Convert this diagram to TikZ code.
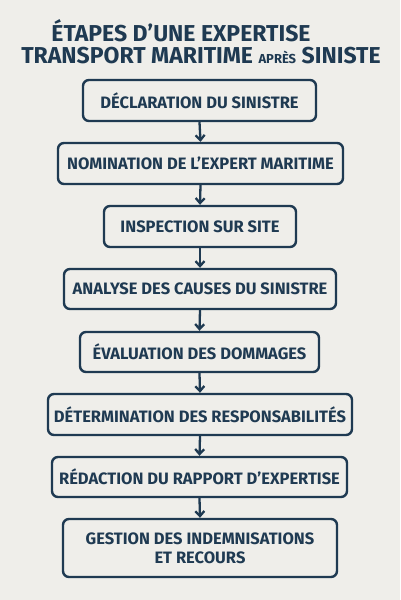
\documentclass[tikz,border=0pt]{standalone}
\usepackage{fontspec}
\setmainfont{Fira Sans}
\usetikzlibrary{arrows.meta}
\definecolor{bg}{HTML}{EFEEEA}
\definecolor{navy}{HTML}{1F3A52}
\begin{document}
\begin{tikzpicture}[x=1pt,y=-1pt,
  stepbox/.style={draw=navy,line width=2.4pt,rounded corners=6pt,inner sep=0pt,
    font=\fontsize{16.5}{19}\selectfont\bfseries,text=navy,align=center},
  flow/.style={draw=navy,line width=2.3pt,-{Straight Barb[length=5pt,width=9pt,line width=2.3pt]}}]
\fill[bg] (0,0) rectangle (400,600);
\useasboundingbox (0,0) rectangle (400,600);
\node[text=navy,font=\fontsize{23}{27}\selectfont\bfseries] (t1) at (181,31) {ÉTAPES D’UNE EXPERTISE};
\node[text=navy,font=\fontsize{23}{27}\selectfont\bfseries] (t2) at (201,56) {TRANSPORT MARITIME {\fontsize{13}{15}\selectfont APRÈS} SINISTE};
\node[stepbox,minimum width=233,minimum height=41] (s1) at (199.5,100.5) {DÉCLARATION DU SINISTRE};
\node[stepbox,minimum width=285,minimum height=41] (s2) at (200.5,163.5) {NOMINATION DE L’EXPERT MARITIME};
\node[stepbox,minimum width=192,minimum height=41] (s3) at (200,226.5) {INSPECTION SUR SITE};
\node[stepbox,minimum width=272,minimum height=40] (s4) at (200,289) {ANALYSE DES CAUSES DU SINISTRE};
\node[stepbox,minimum width=239,minimum height=40] (s5) at (199.5,352) {ÉVALUATION DES DOMMAGES};
\node[stepbox,minimum width=304,minimum height=41] (s6) at (200,414.5) {DÉTERMINATION DES RESPONSABILITÉS};
\node[stepbox,minimum width=295,minimum height=40] (s7) at (199.5,477) {RÉDACTION DU RAPPORT D’EXPERTISE};
\node[stepbox,minimum width=274,minimum height=58] (s8) at (200,548) {GESTION DES INDEMNISATIONS\\ET RECOURS};
\foreach \a/\b in {s1/s2,s2/s3,s3/s4,s4/s5,s5/s6,s6/s7,s7/s8}
  \draw[flow] (\a.south) -- (\b.north);
\end{tikzpicture}
\end{document}
